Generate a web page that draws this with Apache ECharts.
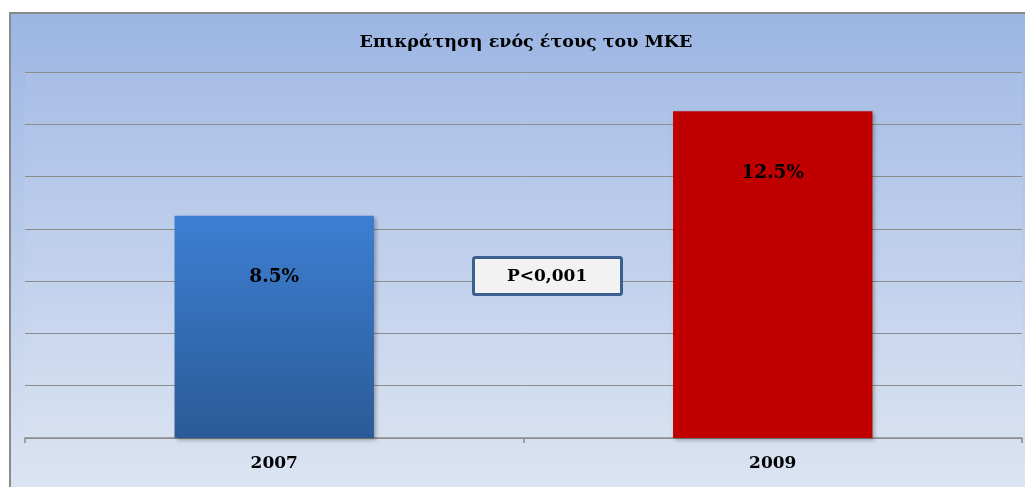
<!DOCTYPE html>
<html>
<head>
<meta charset="utf-8">
<script src="https://cdn.jsdelivr.net/npm/echarts@6/dist/echarts.min.js"></script>
<style>
html,body{margin:0;padding:0;background:#ffffff;}
#chart{width:1025px;height:487px;}
</style>
</head>
<body>
<div id="chart"></div>
<script>
var categories = ['2007', '2009'];
var values = [8.5, 12.5];
var valueLabels = ['8.5%', '12.5%'];
var titleText = 'Επικράτηση ενός έτους του ΜΚΕ';
var noteText = 'P<0,001';

var chart = echarts.init(document.getElementById('chart'));
var serif = '"DejaVu Serif","Liberation Serif",serif';
var barColors = [
  new echarts.graphic.LinearGradient(0, 0, 0, 1, [
    {offset: 0, color: '#3d7fd2'},
    {offset: 1, color: '#2b5a97'}
  ]),
  '#c00000'
];
chart.setOption({
  backgroundColor: '#ffffff',
  animation: false,
  graphic: [{
    type: 'rect',
    z: -10,
    shape: {x: 10, y: 13, width: 1030, height: 490},
    style: {
      fill: new echarts.graphic.LinearGradient(0, 0, 0, 1, [
        {offset: 0, color: '#9bb5e3'},
        {offset: 1, color: '#dee6f3'}
      ]),
      stroke: '#8a8a8a',
      lineWidth: 2
    }
  }],
  title: [{
    text: titleText,
    left: 521,
    textAlign: 'center',
    top: 28,
    textStyle: {fontFamily: serif, fontWeight: 'bold', fontSize: 17.5, color: '#000'}
  }, {
    text: noteText,
    left: 473,
    top: 257,
    padding: [11, 34, 10, 34],
    backgroundColor: '#f2f2f2',
    borderColor: '#3b5f8e',
    borderWidth: 3,
    borderRadius: 2,
    textStyle: {fontFamily: serif, fontWeight: 'bold', fontSize: 17, color: '#000'}
  }],
  grid: {left: 25, right: 3, top: 72, bottom: 49, show: true, borderWidth: 0, backgroundColor: 'rgba(255,255,255,0.06)'},
  xAxis: {
    type: 'category',
    data: categories,
    axisLine: {lineStyle: {color: '#8c8c8c', width: 1.5}},
    axisTick: {show: true, length: 5, lineStyle: {color: '#8c8c8c', width: 1.5}},
    axisLabel: {fontFamily: serif, fontWeight: 'bold', fontSize: 17, color: '#000', margin: 17}
  },
  yAxis: {
    type: 'value',
    min: 0, max: 14, interval: 2,
    axisLabel: {show: false},
    axisLine: {show: false},
    axisTick: {show: false},
    splitLine: {lineStyle: {color: '#8c8c8c', width: 1}}
  },
  series: [{
    type: 'bar',
    barWidth: '40%',
    data: values.map(function (v, i) {
      return {value: v, itemStyle: {color: barColors[i]}};
    }),
    itemStyle: {shadowBlur: 4, shadowOffsetX: 2, shadowOffsetY: 2, shadowColor: 'rgba(0,0,0,0.3)'},
    label: {
      show: true,
      position: 'insideTop',
      distance: 52,
      formatter: function (p) { return valueLabels[p.dataIndex]; },
      fontFamily: serif, fontWeight: 'bold', fontSize: 18.5, color: '#000'
    }
  }]
});
</script>
</body>
</html>
